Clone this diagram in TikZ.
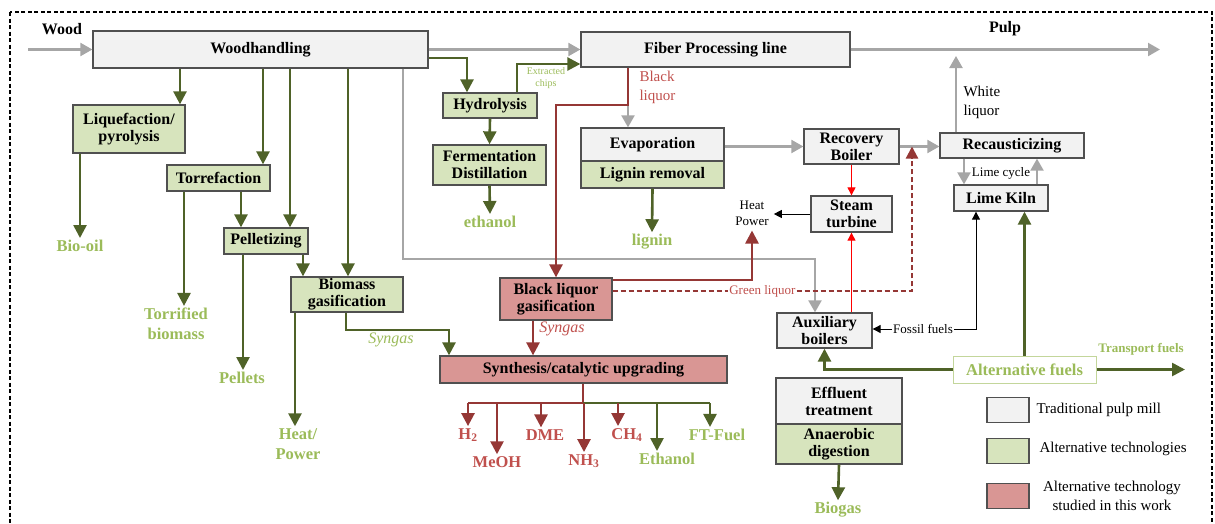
\documentclass[tikz,border=0pt]{standalone}
\usepackage{fontspec}
\setmainfont{Liberation Serif}
\usetikzlibrary{arrows.meta}

\definecolor{tradfill}{HTML}{F2F2F2}
\definecolor{altfill}{HTML}{D7E4BD}
\definecolor{studyfill}{HTML}{D99694}
\definecolor{boxline}{HTML}{505050}
\definecolor{flowolive}{HTML}{4F6228}
\definecolor{flowred}{HTML}{953735}
\definecolor{flowgrey}{HTML}{A6A6A6}
\definecolor{outgreen}{HTML}{9BBB59}
\definecolor{altline}{HTML}{C3D69B}
\definecolor{outred}{HTML}{C0504D}

\tikzset{
  tradbox/.style={draw=boxline, fill=tradfill, line width=1.3pt, inner sep=0pt, align=center,
    font=\bfseries\fontsize{16}{17}\selectfont},
  altbox/.style={tradbox, fill=altfill},
  studybox/.style={tradbox, fill=studyfill},
  keybox/.style={draw=boxline, line width=1.3pt, minimum width=42pt, minimum height=25pt},
  greenout/.style={text=outgreen, font=\bfseries\fontsize{16.5}{20}\selectfont, align=center, inner sep=2pt},
  redout/.style={greenout, text=outred},
  smalltext/.style={font=\fontsize{13}{16}\selectfont, inner sep=1pt, align=center},
  greyflow/.style={draw=flowgrey, line width=2.2pt, -{Triangle[width=13pt,length=12pt]}},
  greenflow/.style={draw=flowolive, line width=2.6pt, -{Triangle[width=13pt,length=13pt]}},
  redflow/.style={draw=flowred, line width=2.6pt, -{Triangle[width=13pt,length=13pt]}},
  greenliq/.style={draw=flowred, line width=2.2pt, dash pattern=on 5pt off 3pt, -{Triangle[width=12pt,length=12pt]}},
  thinred/.style={draw=red, line width=0.9pt, -{Triangle[width=8pt,length=8pt]}},
  thinblack/.style={draw=black, line width=0.9pt, -{Triangle[width=8pt,length=8pt]}},
}

\begin{document}
\begin{tikzpicture}[x=1pt, y=-1pt]

\useasboundingbox (0,0) rectangle (1215,523);
\draw [line width=1.3pt, dash pattern=on 4pt off 2.5pt] (10,12) rectangle (1212,540);

%% main line
\node [tradbox, minimum width=335pt, minimum height=37pt] (wh) at (260.5,49.5) {Woodhandling};
\node [tradbox, minimum width=269pt, minimum height=35pt] (fpl) at (715.5,49.5) {Fiber Processing line};
\node [font=\bfseries\fontsize{16}{17}\selectfont] (wood) at (62,29) {Wood};
\node [font=\bfseries\fontsize{16}{17}\selectfont] (pulp) at (1005,29) {Pulp};
\coordinate (woodin) at (28,49.5);
\coordinate (pulpout) at (1160,49.5);
\draw [greyflow] (woodin) -- (wh.west);
\draw [greyflow] (wh.east) -- (fpl.west);
\draw [greyflow] (fpl.east) -- (pulpout);

%% alternative technologies on wood
\node [altbox, minimum width=112pt, minimum height=48pt] (liq) at (129,129) {Liquefaction/\\pyrolysis};
\node [altbox, minimum width=103pt, minimum height=26pt] (tor) at (218.5,178) {Torrefaction};
\node [altbox, minimum width=84pt, minimum height=26pt] (pel) at (266,241) {Pelletizing};
\node [altbox, minimum width=112pt, minimum height=35pt] (bmg) at (347,294.5) {Biomass\\gasification};
\node [greenout] (biooil) at (80,246) {Bio-oil};
\node [greenout] (torr) at (176,324) {Torrified\\biomass};
\node [greenout] (pellets) at (242,378) {Pellets};
\node [greenout] (hp) at (298,444) {Heat/\\Power};

\draw [greenflow] (180,0 |- wh.south) -- (180,0 |- liq.north);
\draw [greenflow] (263,0 |- wh.south) -- (263,0 |- tor.north);
\draw [greenflow] (290,0 |- wh.south) -- (290,0 |- pel.north);
\draw [greenflow] (348,0 |- wh.south) -- (348,0 |- bmg.north);
\draw [greenflow] (liq.south -| biooil) -- (biooil.north);
\draw [greenflow] (184,0 |- tor.south) -- (184,0 |- torr.north);
\draw [greenflow] (241,0 |- tor.south) -- (241,0 |- pel.north);
\draw [greenflow] (243,0 |- pel.south) -- (243,0 |- pellets.north);
\draw [greenflow] (303,0 |- pel.south) -- (303,0 |- bmg.north);
\draw [greenflow] (295,0 |- bmg.south) -- (295,0 |- hp.north);

%% hydrolysis
\node [altbox, minimum width=94pt, minimum height=25pt] (hyd) at (490,105.5) {Hydrolysis};
\node [altbox, minimum width=113pt, minimum height=40pt] (fer) at (489.5,165) {Fermentation\\Distillation};
\node [greenout] (eth) at (490,222) {ethanol};
\draw [greenflow] (wh.east |- 0,58) -| (467,0 |- hyd.north);
\draw [greenflow] (517,0 |- hyd.north) |- (fpl.west |- 0,64);
\node [text=outgreen, font=\fontsize{10}{12}\selectfont, align=center, inner sep=0pt] (chips) at (546,78) {Extracted\\chips};
\draw [greenflow] (hyd.south) -- (fer.north);
\draw [greenflow] (fer.south) -- (eth.north);

%% evaporation and recovery
\node [tradbox, minimum width=143pt, minimum height=33pt] (evap) at (652.5,144.5) {Evaporation};
\node [altbox, minimum width=143pt, minimum height=27pt] (lig) at (652.5,174.5) {Lignin removal};
\node [greenout] (lignin) at (652,242) {lignin};
\node [tradbox, minimum width=95pt, minimum height=35pt] (rb) at (851.5,146.5) {Recovery\\Boiler};
\node [tradbox, minimum width=144pt, minimum height=25pt] (rec) at (1012,145.5) {Recausticizing};
\node [tradbox, minimum width=94pt, minimum height=26pt] (lk) at (1001,198) {Lime Kiln};
\node [tradbox, minimum width=81pt, minimum height=36pt] (st) at (851.5,214) {Steam\\turbine};
\node [tradbox, minimum width=95pt, minimum height=35pt] (aux) at (824.5,330.5) {Auxiliary\\boilers};
\node [smalltext, inner sep=5pt] (hpw) at (752,213) {Heat\\Power};
\node [font=\fontsize{15}{19}\selectfont, align=left, anchor=west] (wliq) at (960,102) {White\\liquor};
\node [smalltext] (lime) at (1001,173) {Lime cycle};
\coordinate (wlout) at (956,56);

\draw [greyflow] (628,0 |- fpl.south) -- (628,0 |- evap.north);
\draw [greenflow] (lig.south) -- (lignin.north);
\draw [greyflow] (evap.east |- rb.west) -- (rb.west);
\draw [greyflow] (rb.east) -- (rec.west |- rb.east);
\draw [greyflow] (956,0 |- rec.north) -- (wlout);
\draw [greyflow] (964,0 |- rec.south) -- (964,0 |- lk.north);
\draw [greyflow] (1037,0 |- lk.north) -- (1037,0 |- rec.south);
\draw [greyflow] (403,0 |- wh.south) |- (815,259) -- (815,0 |- aux.north);
\draw [thinred] (rb.south) -- (st.north);
\draw [thinred] (st.south |- aux.north) -- (st.south);
\draw [thinblack] (st.west) -- (hpw.east |- st.west);

%% black liquor route
\node [font=\fontsize{15}{19}\selectfont, text=outred, align=left, anchor=west] (bliq) at (636,87) {Black\\liquor};
\node [studybox, minimum width=112pt, minimum height=42pt] (blg) at (556,299) {Black liquor\\gasification};
\node [studybox, minimum width=287pt, minimum height=27pt] (syn) at (583.5,369.5) {Synthesis/catalytic upgrading};
\draw [redflow] (628,0 |- fpl.south) -- (628,105) -| (blg.north);
\draw [redflow] (blg.east |- 0,280) -| (hpw.south);
\draw [greenliq] (blg.east |- 0,291) -| node [pos=0.25, fill=white, text=outred, font=\fontsize{13}{15}\selectfont, inner sep=1pt] {Green liquor} (912,0 |- rb.east);
\draw [redflow] (533,0 |- blg.south) -- (533,0 |- syn.north);
\node [text=outred, font=\itshape\fontsize{16}{17}\selectfont] (synred) at (562,329) {Syngas};
\draw [greenflow] (346,0 |- bmg.south) |- (449,330) -- (449,0 |- syn.north);
\node [text=outgreen, font=\itshape\fontsize{16}{17}\selectfont] (syngreen) at (391,340) {Syngas};

%% products
\coordinate (split) at (583,403);
\node [redout] (h2) at (468,435) {H\textsubscript{2}};
\node [redout] (meoh) at (497,462) {MeOH};
\node [redout] (dme) at (545,435) {DME};
\node [redout] (nh3) at (584,461) {NH\textsubscript{3}};
\node [redout] (ch4) at (627,435) {CH\textsubscript{4}};
\node [greenout] (etoh) at (667,459) {Ethanol};
\node [greenout] (ft) at (717,435) {FT-Fuel};
\draw [draw=flowred, line width=2.6pt] (syn.south -| split) -- (split) -- (468,0 |- split);
\draw [draw=flowolive, line width=2.6pt] (split) -- (710,0 |- split);
\draw [redflow] (468,0 |- split) -- (468,0 |- h2.north);
\draw [redflow] (497,0 |- split) -- (497,0 |- meoh.north);
\draw [redflow] (541,0 |- split) -- (541,0 |- dme.north);
\draw [redflow] (584,0 |- split) -- (584,0 |- nh3.north);
\draw [redflow] (618,0 |- split) -- (618,0 |- ch4.north);
\draw [greenflow] (657,0 |- split) -- (657,0 |- etoh.north);
\draw [greenflow] (710,0 |- split) -- (710,0 |- ft.north);

%% fuels and effluent
\node [draw=altline, fill=white, line width=1pt, minimum width=143pt, minimum height=27pt, text=outgreen,
  font=\bfseries\fontsize{16.5}{17}\selectfont] (alt) at (1024.5,369.5) {Alternative fuels};
\node [text=outgreen, font=\bfseries\fontsize{13}{15}\selectfont] (tf) at (1141,349) {Transport fuels};
\node [smalltext] (ff) at (923,329) {Fossil fuels};
\coordinate (tfout) at (1185,369.5);
\draw [greenflow] (alt.north) -- (alt.north |- lk.south);
\draw [greenflow] (alt.west) -| (aux.south);
\draw [greenflow] (alt.east) -- (tfout);
\draw [thinblack] (ff.west) -- (aux.east |- ff.west);
\draw [thinblack] (ff.east) -| (976,0 |- lk.south);

\node [tradbox, minimum width=126pt, minimum height=46pt] (eff) at (839,401) {Effluent\\treatment};
\node [altbox, minimum width=126pt, minimum height=40pt] (ana) at (839,444) {Anaerobic\\digestion};
\node [greenout] (biogas) at (838,510) {Biogas};
\draw [greenflow] (ana.south) -- (biogas.north);

%% legend
\node [keybox, fill=tradfill] (key1) at (1008,410) {};
\node [keybox, fill=altfill] (key2) at (1008,451) {};
\node [keybox, fill=studyfill] (key3) at (1008,496) {};
\node [font=\fontsize{15}{19}\selectfont, anchor=west] (key1txt) at (1033,410) {Traditional pulp mill};
\node [font=\fontsize{15}{19}\selectfont, anchor=west] (key2txt) at (1036,449) {Alternative technologies};
\node [font=\fontsize{15}{19}\selectfont, align=center] (key3txt) at (1112,496) {Alternative technology\\studied in this work};

\end{tikzpicture}
\end{document}
